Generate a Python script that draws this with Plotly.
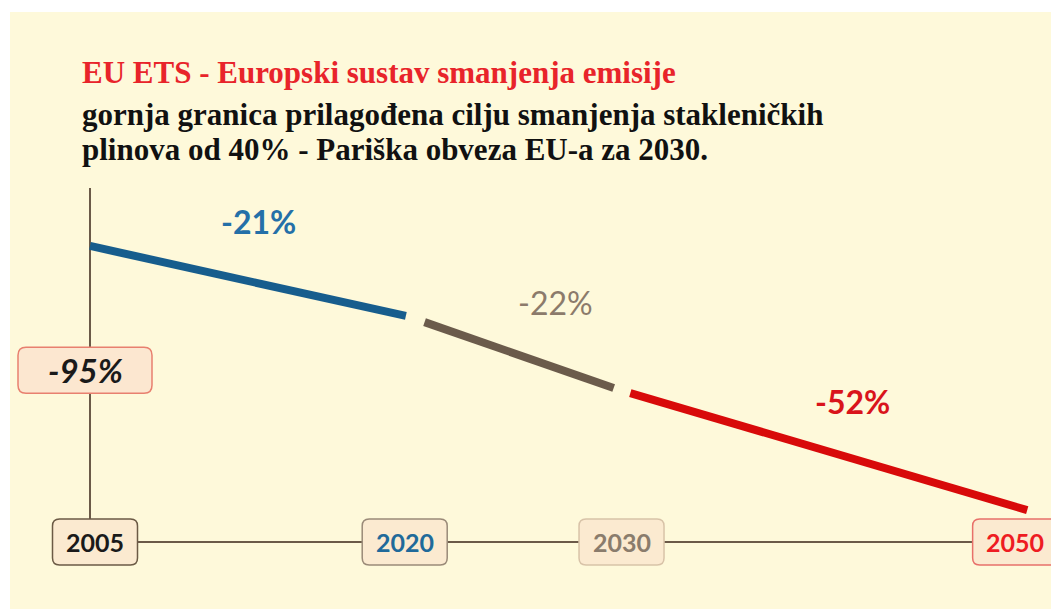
import plotly.graph_objects as go

# ---- data ----
years = [2005, 2020, 2030, 2050]
year_labels = ["2005", "2020", "2030", "2050"]
segment_names = ["2005-2020", "2020-2030", "2030-2050"]
seg_start_year = [2005.0, 2021.1, 2031.0]
seg_start_level = [100.0, 77.8, 57.1]
seg_end_year = [2020.2, 2030.2, 2050.1]
seg_end_level = [79.6, 58.6, 23.0]
change_labels = ["-21%", "-22%", "-52%"]
label_year = [2013.1, 2027.4, 2041.7]
label_level = [107.0, 83.4, 54.8]
axis_top_level = 116.9
timeline_level = 13.7
target_label = "-95%"
target_level = 63.8

title = "EU ETS - Europski sustav smanjenja emisije"
subtitle_lines = ["gornja granica prilagođena cilju smanjenja stakleničkih",
                  "plinova od 40% - Pariška obveza EU-a za 2030."]

# ---- styles ----
BG = "#FEF9DA"
AXIS = "#6B5A48"
seg_colors = ["#175D8D", "#6B5B4B", "#D80A0A"]
label_colors = ["#2470A8", "#8C7B6B", "#D9141B"]
box_border = ["#6B5A45", "#9A8A78", "#D8C3A8", "#E8706A"]
box_text = ["#1A1A1A", "#1F6A9A", "#8A7C6C", "#EE1C22"]
box_shift = [5, 3, 12, -10]
FONT = "Lato"


def rounded_rect(w, h, r, dx=0):
    x0, x1, y0, y1 = -w / 2 + dx, w / 2 + dx, -h / 2, h / 2
    return (f"M {x0 + r},{y0} L {x1 - r},{y0} Q {x1},{y0} {x1},{y0 + r} "
            f"L {x1},{y1 - r} Q {x1},{y1} {x1 - r},{y1} L {x0 + r},{y1} "
            f"Q {x0},{y1} {x0},{y1 - r} L {x0},{y0 + r} Q {x0},{y0} {x0 + r},{y0} Z")


fig = go.Figure()

# axis lines
fig.add_trace(go.Scatter(x=[years[0], years[0]], y=[axis_top_level, timeline_level],
                         mode="lines", line=dict(color=AXIS, width=2),
                         hoverinfo="skip", showlegend=False))
fig.add_trace(go.Scatter(x=[years[0], years[-1]], y=[timeline_level, timeline_level],
                         mode="lines", line=dict(color=AXIS, width=2),
                         hoverinfo="skip", showlegend=False))

# trajectory segments
for i, name in enumerate(segment_names):
    fig.add_trace(go.Scatter(x=[seg_start_year[i], seg_end_year[i]],
                             y=[seg_start_level[i], seg_end_level[i]],
                             mode="lines", name=name,
                             line=dict(color=seg_colors[i], width=8),
                             hoverinfo="skip", showlegend=False))

# change labels
for i, txt in enumerate(change_labels):
    fig.add_annotation(x=label_year[i], y=label_level[i], text=txt, showarrow=False,
                       font=dict(family=FONT, size=32, color=label_colors[i],
                                 weight="bold" if i != 1 else "normal"))

# year boxes
shapes = []
for i, yr in enumerate(years):
    shapes.append(dict(type="path", layer="above", xref="x", yref="y",
                       xsizemode="pixel", ysizemode="pixel",
                       xanchor=yr, yanchor=timeline_level,
                       path=rounded_rect(85, 46, 7, box_shift[i]),
                       fillcolor="#FBEAD0",
                       line=dict(color=box_border[i], width=1.5)))
    fig.add_annotation(x=yr, y=timeline_level, text=year_labels[i], showarrow=False,
                       xshift=box_shift[i],
                       font=dict(family=FONT, size=25, color=box_text[i], weight="bold"))

# target box
shapes.append(dict(type="path", layer="above", xref="x", yref="y",
                   xsizemode="pixel", ysizemode="pixel",
                   xanchor=years[0], yanchor=target_level,
                   path=rounded_rect(134, 46, 8, -5),
                   fillcolor="#FCE7D0", line=dict(color="#E8806F", width=1.5)))
fig.add_annotation(x=years[0], y=target_level, text=f"<i>{target_label}</i>", showarrow=False,
                   xshift=-5,
                   font=dict(family=FONT, size=33, color="#1A1A1A", weight="bold"))

# titles
fig.add_annotation(xref="paper", yref="paper", x=0.0667, y=0.898, xanchor="left",
                   yanchor="middle", text=f"<b>{title}</b>", showarrow=False, align="left",
                   font=dict(family="Liberation Serif", size=31, color="#E8242A"))
for yy, line in zip([0.8275, 0.769], subtitle_lines):
    fig.add_annotation(xref="paper", yref="paper", x=0.0667, y=yy, xanchor="left",
                       yanchor="middle", text=f"<b>{line}</b>", showarrow=False, align="left",
                       font=dict(family="Liberation Serif", size=31, color="#111111"))

fig.update_layout(
    width=1051, height=601,
    margin=dict(l=2, r=0, t=4, b=0),
    paper_bgcolor="white", plot_bgcolor=BG,
    shapes=shapes,
    xaxis=dict(range=[2001.15, 2051.63], visible=False, fixedrange=True),
    yaxis=dict(range=[-5.83, 168.2], visible=False, fixedrange=True),
    showlegend=False,
)

fig.write_html("out.html", config={"displayModeBar": False})
